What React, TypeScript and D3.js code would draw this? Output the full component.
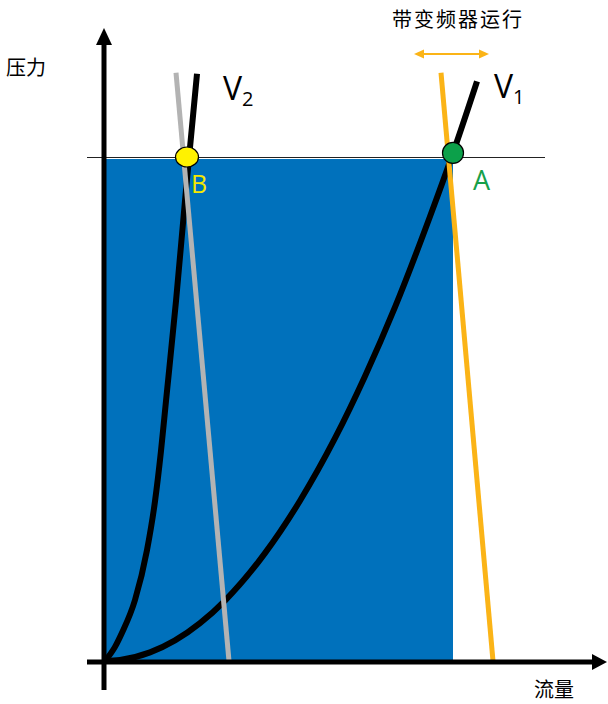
import React from "react";
import * as d3 from "d3";

// curve samples (flow, pressure)
const v1Flow = [0, 3, 9, 19, 24, 32, 39, 46, 52, 58, 65, 69.6, 74.4];
const v1Press = [0, 0.2, 1.7, 7.5, 12, 21.4, 31.8, 44.2, 56.5, 70.2, 88.2, 100.8, 115];
const v2Flow = [0, 2, 3.4, 6, 8.4, 10, 11.2, 12.2, 14.2, 16, 16.8, 18.4];
const v2Press = [0, 2.8, 5.6, 12.1, 22, 31.7, 41.7, 51.6, 71.4, 91.3, 99.8, 116.5];
const grayFlow = [14.2, 24.8];
const grayPress = [116.7, 0];
const orangeFlow = [67.2, 77.6];
const orangePress = [116.7, 0];
const pointA = { flow: 69.6, press: 100.8 };
const pointB = { flow: 16.4, press: 100 };
const workFlow = 69.6;
const workPress = 99.6;
const refPress = 100;

const W = 608;
const H = 704;
const CJK = "'Noto Sans CJK SC', 'Noto Sans', sans-serif";
const LAT = "'Open Sans', 'Noto Sans', sans-serif";

export default function App() {
  const x = d3.scaleLinear().domain([0, 100]).range([105, 605]);
  const y = d3.scaleLinear().domain([0, 100]).range([661, 157]);

  const line = d3
    .line<[number, number]>()
    .x((d) => x(d[0]))
    .y((d) => y(d[1]))
    .curve(d3.curveMonotoneX);
  const straight = d3
    .line<[number, number]>()
    .x((d) => x(d[0]))
    .y((d) => y(d[1]));

  const v1 = v1Flow.map((f, i) => [f, v1Press[i]] as [number, number]);
  const v2 = v2Flow.map((f, i) => [f, v2Press[i]] as [number, number]);
  const gray = grayFlow.map((f, i) => [f, grayPress[i]] as [number, number]);
  const orange = orangeFlow.map((f, i) => [f, orangePress[i]] as [number, number]);

  const ox = x(0) - 1; // y axis position
  const oy = y(0) + 1; // x axis position

  return (
    <svg
      width={W}
      height={H}
      style={{ position: "absolute", left: 0, top: 0, background: "#fff" }}
    >
      {/* working area */}
      <rect
        x={x(0)}
        y={y(workPress)}
        width={x(workFlow) - x(0)}
        height={y(0) - y(workPress)}
        fill="#0071bc"
      />
      <line
        x1={x(-3.6)}
        x2={x(88)}
        y1={y(refPress) + 0.5}
        y2={y(refPress) + 0.5}
        stroke="#222"
        strokeWidth={1}
      />

      {/* curves */}
      <path d={line(v1) ?? ""} fill="none" stroke="#000" strokeWidth={6} />
      <path d={line(v2) ?? ""} fill="none" stroke="#000" strokeWidth={6} />
      <path d={straight(gray) ?? ""} fill="none" stroke="#b3b3b3" strokeWidth={5} />
      <path d={straight(orange) ?? ""} fill="none" stroke="#fbb417" strokeWidth={5} />

      {/* axes */}
      <line x1={ox} x2={ox} y1={690} y2={40} stroke="#000" strokeWidth={5} />
      <path d={`M${ox},28 L${ox - 8},45 L${ox + 8},45 Z`} fill="#000" />
      <line x1={87} x2={595} y1={oy} y2={oy} stroke="#000" strokeWidth={5} />
      <path d={`M607,${oy} L592,${oy - 8} L592,${oy + 8} Z`} fill="#000" />

      {/* points */}
      <ellipse
        cx={x(pointB.flow)}
        cy={y(pointB.press)}
        rx={11.5}
        ry={10}
        fill="#fff200"
        stroke="#000"
        strokeWidth={1.2}
      />
      <circle
        cx={x(pointA.flow)}
        cy={y(pointA.press)}
        r={10.5}
        fill="#0ca04a"
        stroke="#000"
        strokeWidth={1.2}
      />

      {/* orange double arrow */}
      <line x1={420} x2={483} y1={54} y2={54} stroke="#fbb417" strokeWidth={2} />
      <path d="M414,54 L424,49.5 L424,58.5 Z" fill="#fbb417" />
      <path d="M489,54 L479,49.5 L479,58.5 Z" fill="#fbb417" />

      {/* labels */}
      <text x={6} y={75} fontFamily={CJK} fontSize={20} fill="#000">
        压力
      </text>
      <text x={534} y={697} fontFamily={CJK} fontSize={20} fill="#000">
        流量
      </text>
      <text x={392} y={27} fontFamily={CJK} fontSize={20} letterSpacing={2} fill="#000">
        带变频器运行
      </text>

      <text x={223} y={100} fontFamily={LAT} fontSize={32} fill="#000">
        V
        <tspan fontSize={20} dy={6}>
          2
        </tspan>
      </text>
      <text x={494} y={98} fontFamily={LAT} fontSize={32} fill="#000">
        V
        <tspan fontSize={20} dy={6}>
          1
        </tspan>
      </text>
      <text x={191} y={193} fontFamily={LAT} fontSize={25} fill="#f5e800">
        B
      </text>
      <text x={473} y={190} fontFamily={LAT} fontSize={27} fill="#17a04a">
        A
      </text>
    </svg>
  );
}
